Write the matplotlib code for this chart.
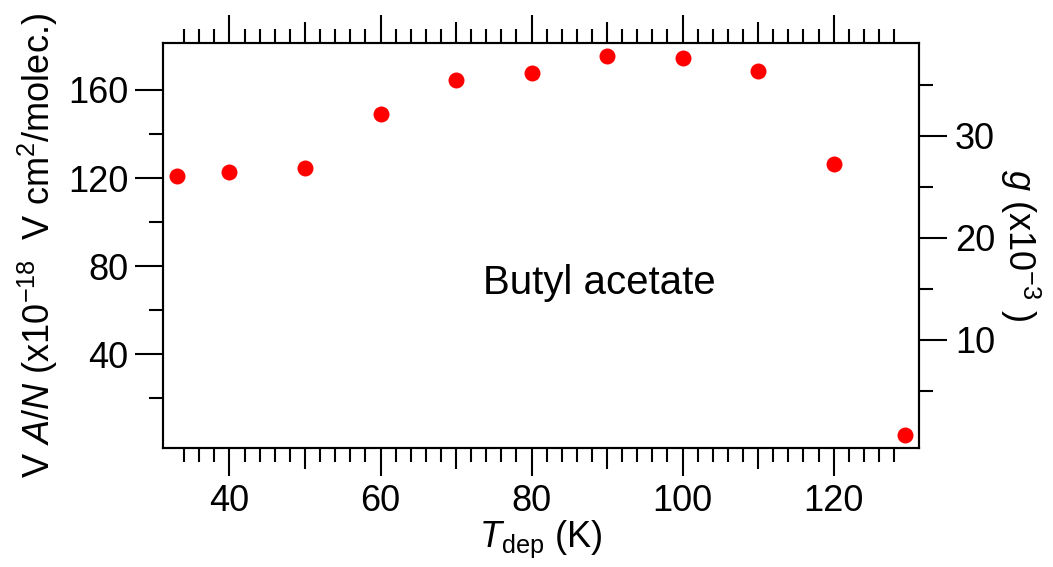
import numpy as np
import matplotlib
matplotlib.use("Agg")
import matplotlib.pyplot as plt
from matplotlib.ticker import FixedLocator, NullFormatter

plt.rcParams['font.family'] = ['Liberation Sans', 'DejaVu Sans']
plt.rcParams['mathtext.fontset'] = 'custom'
plt.rcParams['mathtext.rm'] = 'Liberation Sans'
plt.rcParams['mathtext.it'] = 'Liberation Sans:italic'

# deposition temperature (K) and V*A/N (x1e-18 V cm^2/molec.)
t_dep = [33, 40, 50, 60, 70, 80, 90, 100, 110, 120, 129.5]
van = [120.8, 122.6, 124.7, 148.9, 164.6, 167.6, 175.6, 174.6, 168.5, 126.5, 3.4]

x_major = [40, 60, 80, 100, 120]
x_mid = [50, 70, 90, 110]
x_minor = [t for t in range(34, 129, 2) if t % 10 != 0]
y_major = [40, 80, 120, 160]
y_minor = [20, 60, 100, 140]
g_major = [10, 20, 30]
g_minor = [5, 15, 25, 35]

FS = 26
LW = 1.5

fig = plt.figure(figsize=(10.53, 5.67), dpi=100)
ax = fig.add_axes([0.1548, 0.2099, 0.7179, 0.7143])

ax.plot(t_dep, van, 'o', color='#ff0000', markersize=11.5, markeredgewidth=0,
        clip_on=False, zorder=5)

ax.set_xlim(31.2, 131.3)
ax.set_ylim(-2.5, 181.3)

for s in ax.spines.values():
    s.set_linewidth(LW)

# x ticks on both bottom and top, labels only at the bottom
ax.xaxis.set_major_locator(FixedLocator(x_major))
ax.xaxis.set_minor_locator(FixedLocator(x_minor))
ax.tick_params(axis='x', which='both', direction='out', top=True, bottom=True,
               width=LW, labelsize=FS, pad=6)
ax.tick_params(axis='x', which='major', length=20)
ax.tick_params(axis='x', which='minor', length=10)

# half-decade ticks, slightly longer than the minor ones
for loc in ('bottom', 'top'):
    sec = ax.secondary_xaxis(loc)
    sec.set_xticks(x_mid)
    sec.xaxis.set_major_formatter(NullFormatter())
    sec.tick_params(direction='out', length=15, width=LW)
    sec.spines[loc].set_visible(False)

ax.yaxis.set_major_locator(FixedLocator(y_major))
ax.yaxis.set_minor_locator(FixedLocator(y_minor))
ax.tick_params(axis='y', which='both', direction='out', width=LW,
               labelsize=FS, pad=5)
ax.tick_params(axis='y', which='major', length=20)
ax.tick_params(axis='y', which='minor', length=10)

ax.set_xlabel(r'$\mathit{T}_{\mathrm{dep}}$ (K)', fontsize=FS, labelpad=0)
ax.set_ylabel(r'V $\mathit{A/N}$ (x10$^{-18}$  V cm$^{2}$/molec.)',
              fontsize=FS, labelpad=6)

# right-hand axis for g
ax2 = ax.twinx()
ax2.set_ylim(-0.62, 39.1)
ax2.yaxis.set_major_locator(FixedLocator(g_major))
ax2.yaxis.set_minor_locator(FixedLocator(g_minor))
ax2.tick_params(axis='y', which='both', direction='out', width=LW,
                labelsize=FS, pad=6)
ax2.tick_params(axis='y', which='major', length=20)
ax2.tick_params(axis='y', which='minor', length=10)
for s in ax2.spines.values():
    s.set_linewidth(LW)
ax2.set_ylabel(r'$\mathit{g}$ (x10$^{-3}$ )', fontsize=FS, rotation=270,
               labelpad=34)

ax.text(0.577, 0.407, 'Butyl acetate', transform=ax.transAxes, fontsize=29,
        ha='center', va='center')

fig.savefig('out.png', dpi=100)
